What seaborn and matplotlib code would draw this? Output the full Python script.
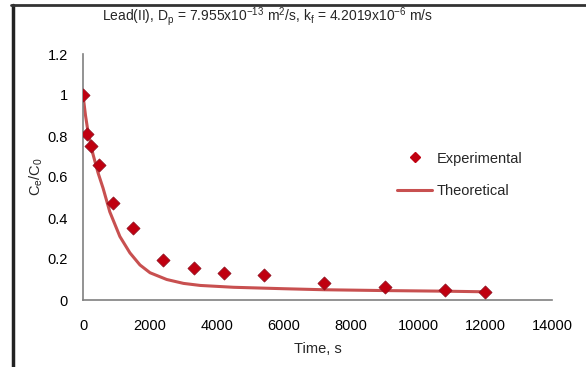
import matplotlib
matplotlib.use("Agg")
import matplotlib.pyplot as plt
import seaborn as sns
import pandas as pd
from matplotlib.lines import Line2D

# Experimental data
exp_time = [0, 120, 240, 480, 900, 1500, 2400, 3300, 4200, 5400, 7200, 9000, 10800, 12000]
exp_ratio = [1.0, 0.81, 0.75, 0.66, 0.475, 0.35, 0.195, 0.158, 0.133, 0.124, 0.084, 0.065, 0.049, 0.037]

# Theoretical curve
theo_time = [0, 75, 150, 300, 450, 600, 800, 950, 1100, 1250, 1400, 1700, 2000, 2500, 3000, 3500, 4500, 6000, 7200, 9000, 10800, 12000]
theo_ratio = [1.0, 0.90, 0.82, 0.71, 0.62, 0.545, 0.43, 0.37, 0.31, 0.27, 0.23, 0.171, 0.133, 0.10, 0.081, 0.071, 0.062, 0.055, 0.050, 0.046, 0.043, 0.040]

x_ticks = [0, 2000, 4000, 6000, 8000, 10000, 12000, 14000]
y_ticks = [0, 0.2, 0.4, 0.6, 0.8, 1.0, 1.2]
y_tick_labels = ["0", "0.2", "0.4", "0.6", "0.8", "1", "1.2"]

sns.set_theme(style="white")
plt.rcParams['font.family'] = ['Liberation Sans', 'DejaVu Sans']
plt.rcParams['mathtext.default'] = 'regular'

df_exp = pd.DataFrame({"t": exp_time, "r": exp_ratio})
df_theo = pd.DataFrame({"t": theo_time, "r": theo_ratio})

W, H = 586, 367
fig = plt.figure(figsize=(W / 100, H / 100), dpi=100)
ax = fig.add_axes([83 / W, 1 - 300 / H, (552 - 83) / W, (300 - 54) / H])

sns.lineplot(data=df_theo, x="t", y="r", ax=ax, color="#C85050", lw=2.2,
             estimator=None, sort=True, label="Theoretical", legend=False)
sns.scatterplot(data=df_exp, x="t", y="r", ax=ax, marker="D", s=45,
                color="#C00010", edgecolor="#8a1020", linewidth=0.5,
                label="Experimental", legend=False, zorder=3)

ax.set_xlim(0, 14000)
ax.set_ylim(0, 1.2)
ax.set_xticks(x_ticks)
ax.set_xticklabels([str(v) for v in x_ticks])
ax.set_yticks(y_ticks)
ax.set_yticklabels(y_tick_labels)
ax.tick_params(axis="both", direction="out", length=5, width=1, color="#808080",
               labelsize=10.5, labelcolor="#000000", pad=6)
ax.tick_params(axis="x", pad=9)
for s in ["top", "right"]:
    ax.spines[s].set_visible(False)
for s in ["left", "bottom"]:
    ax.spines[s].set_color("#808080")
    ax.spines[s].set_linewidth(1.2)
ax.set_xlabel("Time, s", fontsize=10.5, labelpad=6)
ax.set_ylabel("C$_e$/C$_0$", fontsize=10.5, labelpad=2)

fig.text(268 / W, 1 - 17 / H,
         "Lead(II), D$_p$ = 7.955x10$^{-13}$ m$^2$/s, k$_f$ = 4.2019x10$^{-6}$ m/s",
         ha="center", va="center", fontsize=10)

handles = [
    Line2D([], [], marker="D", ls="none", color="#C00010", markersize=5.5),
    Line2D([], [], color="#C85050", lw=2.2),
]
fig.legend(handles, ["Experimental", "Theoretical"], loc="center left",
           bbox_to_anchor=(384 / W, 1 - 175 / H), frameon=False,
           fontsize=10.5, handlelength=2.4, labelspacing=1.3, handletextpad=0.3)

# frame lines (left and top)
fig.add_artist(Line2D([12.5 / W, 12.5 / W], [0, 1 - 5 / H], transform=fig.transFigure,
                      color="#222222", lw=2.5))
fig.add_artist(Line2D([11 / W, 1], [1 - 5 / H, 1 - 5 / H], transform=fig.transFigure,
                      color="#333333", lw=2.0))

fig.savefig("out.png", dpi=100)
